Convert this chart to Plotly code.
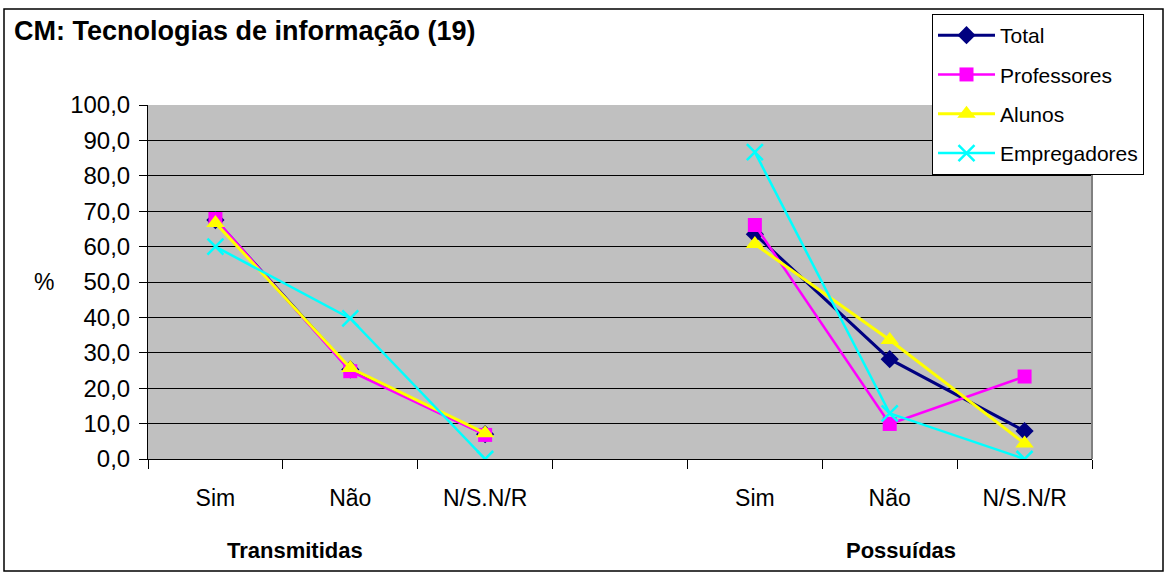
import plotly.graph_objects as go

# ---- data ----
categories = ["Sim", "Não", "N/S.N/R", "", "Sim", "Não", "N/S.N/R"]
groups = ["Transmitidas", "Possuídas"]
total = [67.5, 25.3, 7.0, None, 63.5, 28.2, 7.9]
professores = [67.8, 24.8, 6.8, None, 66.1, 9.9, 23.3]
alunos = [66.7, 25.7, 7.3, None, 60.7, 33.6, 4.4]
empregadores = [60.0, 39.7, 0.0, None, 86.7, 12.9, 0.0]
y_ticks = list(range(0, 101, 10))

W, H = 1167, 574
L, R, T, B = 148, 1092, 105, 459
FONT = "Liberation Sans, Arial, sans-serif"

def px_x(p):
    return (p - L) / (R - L)

def px_y(p):
    return (B - p) / (B - T)

xs = list(range(len(categories)))

fig = go.Figure()
series = [
    ("Total", total, "#000080", "diamond", 14, 3),
    ("Professores", professores, "#FF00FF", "square", 14, 2.5),
    ("Alunos", alunos, "#FFFF00", "triangle-up", 16, 3),
    ("Empregadores", empregadores, "#00FFFF", "x-thin-open", 16, 2.5),
]
for name, vals, col, sym, size, lw in series:
    fig.add_trace(go.Scatter(
        x=xs, y=vals, name=name, mode="lines+markers",
        line=dict(color=col, width=lw),
        marker=dict(symbol=sym, size=size, color=col,
                    line=dict(color=col, width=2.5 if sym.startswith("x") else 0)),
        legendgroup=name, connectgaps=False,
    ))

fig.update_layout(
    width=W, height=H, autosize=False,
    margin=dict(l=L, r=W - R, t=T, b=H - B),
    paper_bgcolor="white", plot_bgcolor="#C0C0C0",
    separators=",.",
    font=dict(family=FONT, color="black", size=22),
    showlegend=True,
    legend=dict(
        x=px_x(932), y=px_y(14), xanchor="left", yanchor="top",
        bgcolor="white", bordercolor="black", borderwidth=1,
        font=dict(family=FONT, size=21, color="black"),
        itemwidth=57, tracegroupgap=9, traceorder="grouped",
    ),
    xaxis=dict(
        range=[-0.5, len(categories) - 0.5],
        tickmode="array", tickvals=xs, ticktext=categories,
        ticks="", showgrid=False, zeroline=False,
        showline=True, linecolor="black", linewidth=1,
        tickfont=dict(family=FONT, size=23, color="black"),
        ticklabelstandoff=18,
        minor=dict(tickmode="array",
                   tickvals=[i - 0.5 for i in range(len(categories) + 1)],
                   ticks="outside", ticklen=9, tickcolor="black",
                   tickwidth=1, showgrid=False),
        fixedrange=True,
    ),
    yaxis=dict(
        range=[0, 100], tickmode="array", tickvals=y_ticks,
        tickformat=".1f", ticks="outside", ticklen=8, tickcolor="black",
        showgrid=True, gridcolor="black", gridwidth=1,
        zeroline=False, showline=True, linecolor="black", linewidth=1,
        tickfont=dict(family=FONT, size=24, color="black"),
        ticklabelstandoff=4, fixedrange=True,
    ),
)

# plot-area right border (gray)
fig.add_shape(type="line", xref="paper", yref="paper", x0=1, x1=1, y0=0, y1=1,
              line=dict(color="#808080", width=2))
# outer chart border
fig.add_shape(type="rect", xref="paper", yref="paper",
              x0=px_x(4), x1=px_x(1163), y0=px_y(571), y1=px_y(9),
              line=dict(color="black", width=1.5), layer="above")

# title
fig.add_annotation(text="<b>CM: Tecnologias de informação (19)</b>",
                   xref="paper", yref="paper", x=px_x(12), y=px_y(31),
                   xanchor="left", yanchor="middle", showarrow=False,
                   font=dict(family=FONT, size=27, color="black"))
# % axis label
fig.add_annotation(text="%", xref="paper", yref="paper", x=px_x(44), y=0.5,
                   xanchor="center", yanchor="middle", showarrow=False,
                   font=dict(family=FONT, size=23, color="black"))
# group labels
for gx, g in zip([0.59, 5.08], groups):
    fig.add_annotation(text="<b>" + g + "</b>", xref="x", yref="paper",
                       x=gx, y=px_y(550), xanchor="center", yanchor="middle",
                       showarrow=False, font=dict(family=FONT, size=22, color="black"))

fig.write_html("out.html",
               config={"displayModeBar": False},
               post_script="document.body.style.margin='0';document.body.style.overflow='hidden';")
